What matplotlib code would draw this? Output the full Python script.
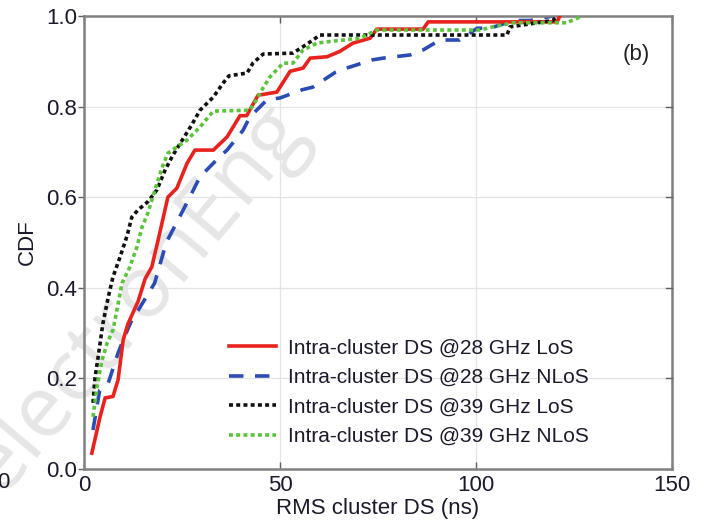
import numpy as np
import matplotlib
matplotlib.use('Agg')
import matplotlib.pyplot as plt

plt.rcParams['font.family'] = ['Liberation Sans', 'DejaVu Sans']

# empirical CDF vertices of the intra-cluster delay spread
x_28_los = [2.0, 4.1, 5.4, 7.4, 8.7, 10.0, 11.2, 13.8, 15.6, 17.3, 18.9, 21.4, 23.7, 26.3,
            28.3, 33.0, 36.5, 39.8, 41.5, 44.4, 49.2, 52.6, 55.9, 57.7, 62.0, 65.3, 68.6,
            73.0, 74.7, 86.5, 87.8, 120.7, 121.4]
y_28_los = [0.035, 0.115, 0.157, 0.16, 0.197, 0.285, 0.32, 0.37, 0.42, 0.446, 0.505, 0.6,
            0.62, 0.675, 0.704, 0.704, 0.733, 0.78, 0.78, 0.825, 0.832, 0.878, 0.885, 0.907,
            0.91, 0.922, 0.94, 0.951, 0.971, 0.971, 0.987, 0.987, 1.0]

x_28_nlos = [2.3, 4.0, 6.2, 8.7, 10.0, 12.5, 13.8, 18.0, 21.0, 25.5, 29.6, 34.7, 36.5, 40.6,
             42.3, 46.7, 50.0, 55.6, 58.4, 64.0, 67.0, 73.5, 76.3, 83.2, 86.5, 90.8, 95.9,
             100.3, 103.6, 109.5, 113.8, 119.6]
y_28_nlos = [0.086, 0.174, 0.19, 0.256, 0.285, 0.335, 0.35, 0.41, 0.5, 0.575, 0.645, 0.69,
             0.704, 0.748, 0.777, 0.815, 0.819, 0.837, 0.843, 0.875, 0.885, 0.903, 0.907,
             0.914, 0.925, 0.947, 0.947, 0.973, 0.973, 0.99, 0.99, 1.0]

x_39_los = [2.3, 2.8, 3.6, 4.8, 6.2, 7.4, 9.2, 11.0, 12.2, 13.8, 16.3, 18.6, 20.7, 22.7,
            25.0, 27.5, 29.6, 33.0, 35.5, 37.0, 41.6, 43.1, 45.7, 53.3, 56.9, 60.2, 107.9,
            108.7, 119.6, 120.7]
y_39_los = [0.146, 0.2, 0.247, 0.32, 0.38, 0.424, 0.468, 0.515, 0.556, 0.572, 0.59, 0.616,
            0.66, 0.693, 0.725, 0.76, 0.792, 0.821, 0.852, 0.868, 0.874, 0.896, 0.916, 0.918,
            0.938, 0.958, 0.958, 0.976, 0.99, 1.0]

x_39_nlos = [2.3, 3.3, 4.6, 5.9, 7.4, 8.4, 9.7, 11.7, 13.5, 14.8, 16.3, 18.1, 19.9, 21.4,
             23.7, 26.3, 29.6, 33.0, 42.3, 44.0, 45.4, 47.4, 50.8, 53.3, 55.9, 59.4, 62.0,
             70.4, 74.7, 101.0, 104.3, 109.5, 123.2, 125.8, 127.0]
y_39_nlos = [0.115, 0.18, 0.24, 0.278, 0.307, 0.351, 0.41, 0.446, 0.49, 0.534, 0.565, 0.616,
             0.665, 0.697, 0.711, 0.726, 0.755, 0.79, 0.792, 0.815, 0.837, 0.865, 0.896,
             0.896, 0.925, 0.94, 0.943, 0.951, 0.969, 0.969, 0.976, 0.985, 0.985, 0.995, 1.0]

labels = ['Intra-cluster DS @28 GHz LoS', 'Intra-cluster DS @28 GHz NLoS',
          'Intra-cluster DS @39 GHz LoS', 'Intra-cluster DS @39 GHz NLoS']

fig = plt.figure(figsize=(7.04, 5.26), dpi=100)
ax = fig.add_axes([0.1193, 0.1084, 0.8352, 0.8612])

# watermark behind the curves, running off the lower left corner
ax.text(0.09, 0.375, 'electronEng', transform=ax.transAxes, rotation=50,
        fontsize=62, color='#e6e6e6', ha='center', va='center',
        family='Open Sans', zorder=0, clip_on=False)

lw = 2.6
ax.plot(x_28_los, y_28_los, color='#e8221d', lw=lw, label=labels[0], zorder=3)
ax.plot(x_28_nlos, y_28_nlos, color='#2b4db3', lw=lw, dashes=(4, 3.2),
        label=labels[1], zorder=2)
ax.plot(x_39_los, y_39_los, color='#111111', lw=lw, dashes=(1.1, 0.9),
        label=labels[2], zorder=4)
ax.plot(x_39_nlos, y_39_nlos, color='#5bc43a', lw=lw, dashes=(1.1, 0.9),
        label=labels[3], zorder=5)

ax.set_xlim(0, 150)
ax.set_ylim(0, 1)
ax.set_xticks([0, 50, 100, 150])
ax.set_yticks(np.arange(0, 1.01, 0.2))
ax.set_yticklabels(['%.1f' % v for v in np.arange(0, 1.01, 0.2)])
ax.grid(True, color='#e4e4e4', lw=0.9, zorder=0)
ax.set_axisbelow(True)

for s in ax.spines.values():
    s.set_color('#808080')
    s.set_linewidth(1.8)

ax.tick_params(axis='x', direction='in', top=True, length=5, width=1,
               color='#606060', labelsize=16, pad=4, labelcolor='#1a1a2a')
ax.tick_params(axis='y', direction='out', right=False, length=4, width=1,
               color='#606060', labelsize=16, pad=1, labelcolor='#1a1a2a')
for y in np.arange(0.2, 1.0, 0.2):
    ax.plot([148.6, 150], [y, y], color='#606060', lw=1, clip_on=False, zorder=6)

ax.set_xlabel('RMS cluster DS (ns)', fontsize=16, color='#1a1a2a', labelpad=2)
ax.set_ylabel('CDF', fontsize=16, color='#1a1a2a', labelpad=6)

ax.text(141, 0.915, '(b)', fontsize=16, ha='center', va='center',
        color='#222222')

leg = ax.legend(loc='lower right', bbox_to_anchor=(0.891, 0.009), frameon=False,
                handlelength=2.25, handletextpad=0.58, labelspacing=0.51,
                prop={'size': 15})
for t in leg.get_texts():
    t.set_color('#1a1a2a')

# tick label clipped from the neighbouring panel
fig.text(-0.004, 0.083, '0', fontsize=16, color='#1a1a2a', ha='left', va='center')

fig.savefig('out.png', dpi=100)
